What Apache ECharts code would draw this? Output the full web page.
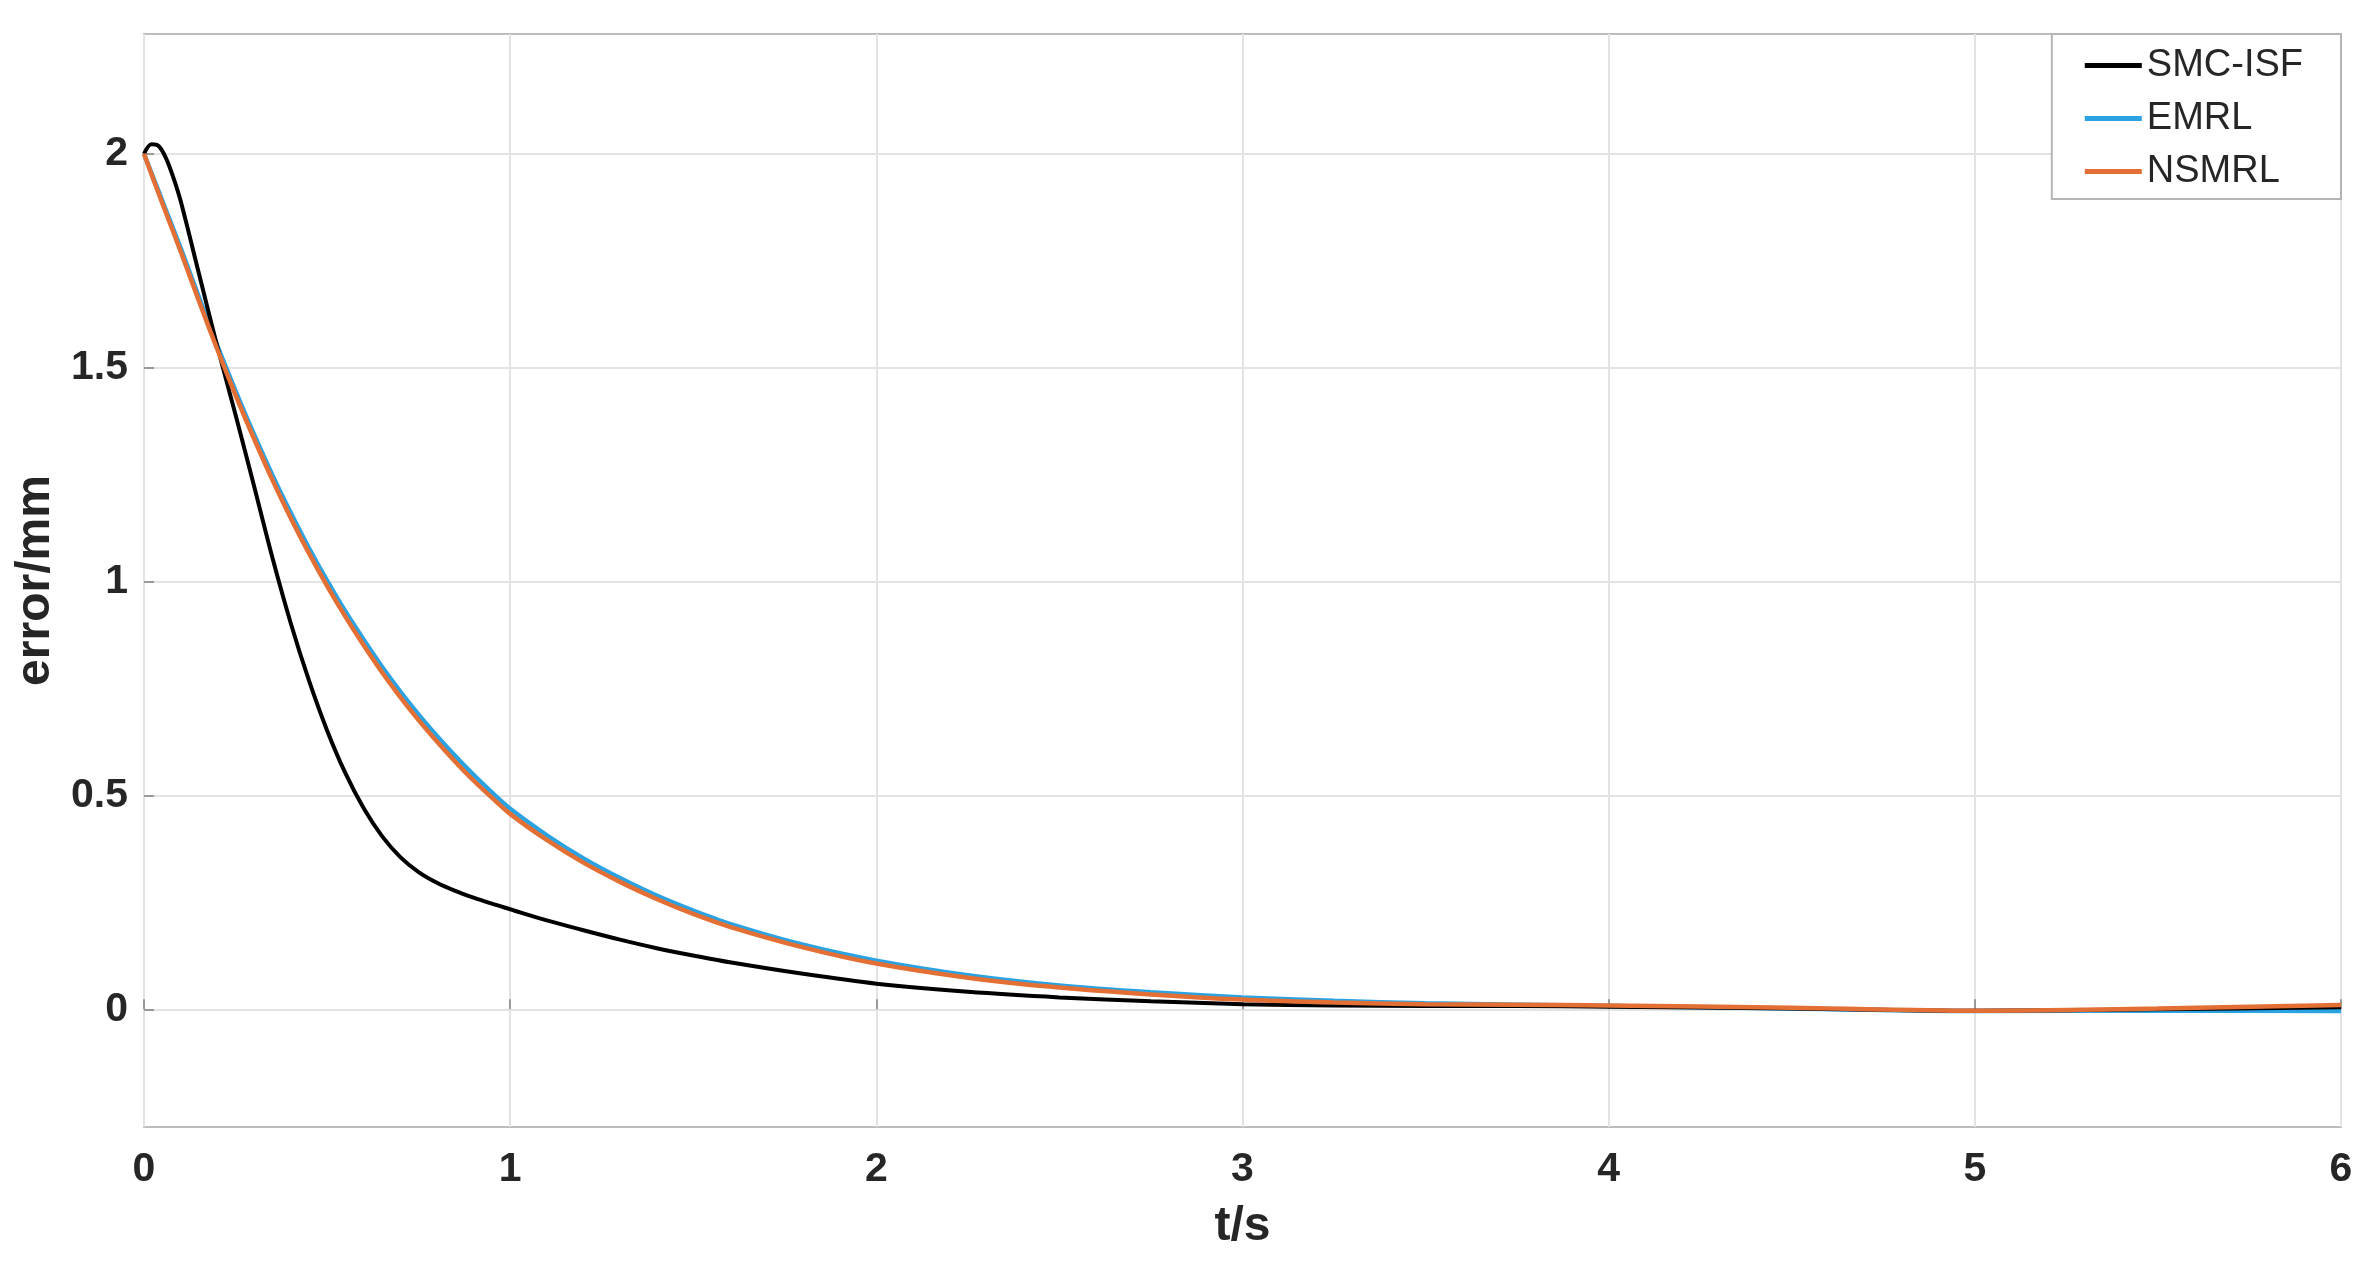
<!DOCTYPE html>
<html>
<head>
<meta charset="utf-8">
<script src="https://cdn.jsdelivr.net/npm/echarts@6/dist/echarts.min.js"></script>
<style>
html,body{margin:0;padding:0;background:#fff;}
#chart{width:2376px;height:1268px;}
</style>
</head>
<body>
<div id="chart"></div>
<script>
// time samples (s)
const timeValues = [0, 0.02, 0.04, 0.06, 0.08, 0.1, 0.15, 0.2, 0.25, 0.3, 0.35, 0.4, 0.45, 0.5, 0.55, 0.6, 0.65, 0.7, 0.75, 0.8, 0.85, 0.9, 0.95, 1.0, 1.1, 1.2, 1.3, 1.4, 1.5, 1.6, 1.8, 2.0, 2.25, 2.5, 2.75, 3.0, 3.25, 3.5, 3.75, 4.0, 4.5, 5.0, 5.5, 6.0];
// error (mm)
const smcIsf = [2.0, 2.022, 2.018, 1.99, 1.945, 1.89, 1.72, 1.55, 1.39, 1.225, 1.058, 0.905, 0.77, 0.652, 0.552, 0.47, 0.405, 0.356, 0.321, 0.296, 0.277, 0.261, 0.247, 0.234, 0.208, 0.185, 0.163, 0.143, 0.126, 0.11, 0.083, 0.06, 0.041, 0.028, 0.019, 0.012, 0.009, 0.008, 0.008, 0.006, 0.002, -0.003, 0.0, 0.005];
const emrl = [2.0, 1.956, 1.912, 1.868, 1.824, 1.78, 1.665, 1.552, 1.446, 1.345, 1.25, 1.162, 1.079, 1.002, 0.93, 0.864, 0.801, 0.743, 0.689, 0.639, 0.592, 0.548, 0.507, 0.469, 0.407, 0.353, 0.307, 0.266, 0.231, 0.2, 0.151, 0.114, 0.08, 0.056, 0.04, 0.028, 0.02, 0.014, 0.011, 0.008, 0.002, -0.004, -0.003, -0.004];
const nsmrl = [2.0, 1.953, 1.907, 1.862, 1.817, 1.772, 1.656, 1.543, 1.436, 1.335, 1.239, 1.15, 1.067, 0.99, 0.918, 0.851, 0.788, 0.73, 0.676, 0.626, 0.579, 0.535, 0.495, 0.457, 0.396, 0.343, 0.298, 0.258, 0.223, 0.193, 0.145, 0.107, 0.074, 0.051, 0.035, 0.023, 0.016, 0.012, 0.011, 0.009, 0.004, -0.003, 0.002, 0.01];
const seriesNames = ['SMC-ISF', 'EMRL', 'NSMRL'];
const yTickValues = [0, 0.5, 1, 1.5, 2];

const pair = arr => timeValues.map((t, i) => [t, arr[i]]);
const FONT = 'Liberation Sans, Arial, Helvetica, sans-serif';

const chart = echarts.init(document.getElementById('chart'), null, {renderer: 'canvas'});
chart.setOption({
  animation: false,
  backgroundColor: '#ffffff',
  color: ['#000000', '#2ba3e3', '#e46f35'],
  grid: {
    left: 144, right: 35, top: 34, bottom: 141,
    show: true, borderColor: '#bdbdbd', borderWidth: 2, backgroundColor: '#ffffff'
  },
  legend: {
    data: seriesNames,
    orient: 'vertical',
    right: 35, top: 34,
    icon: 'rect',
    itemWidth: 57, itemHeight: 5, itemGap: 0,
    padding: [5, 38, 1, 33],
    borderColor: '#b5b5b5', borderWidth: 2,
    backgroundColor: '#ffffff',
    textStyle: {fontFamily: FONT, fontSize: 38, color: '#262626', lineHeight: 53}
  },
  xAxis: {
    type: 'value', min: 0, max: 6, interval: 1,
    name: 't/s', nameLocation: 'middle', nameGap: 76,
    nameTextStyle: {fontFamily: FONT, fontSize: 48, fontWeight: 'bold', color: '#262626'},
    axisLine: {show: false},
    axisTick: {show: true, inside: true, length: 10, lineStyle: {color: '#9a9a9a', width: 2}},
    axisLabel: {fontFamily: FONT, fontSize: 41, fontWeight: 'bold', color: '#262626', margin: 22},
    splitLine: {show: true, lineStyle: {color: '#e3e3e3', width: 2}}
  },
  yAxis: {
    type: 'value', min: -0.275, max: 2.28,
    name: 'error/mm', nameLocation: 'middle', nameGap: 84,
    nameTextStyle: {fontFamily: FONT, fontSize: 48, fontWeight: 'bold', color: '#262626'},
    axisLine: {show: false},
    axisTick: {show: true, inside: true, length: 10, customValues: yTickValues, lineStyle: {color: '#9a9a9a', width: 2}},
    axisLabel: {fontFamily: FONT, fontSize: 41, fontWeight: 'bold', color: '#262626', margin: 16, customValues: yTickValues},
    splitLine: {show: true, lineStyle: {color: '#e3e3e3', width: 2}}
  },
  series: [
    {name: seriesNames[0], type: 'line', data: pair(smcIsf), showSymbol: false, smooth: 0.3, lineStyle: {width: 4}, z: 3},
    {name: seriesNames[1], type: 'line', data: pair(emrl), showSymbol: false, smooth: 0.3, lineStyle: {width: 4.5}, z: 2},
    {name: seriesNames[2], type: 'line', data: pair(nsmrl), showSymbol: false, smooth: 0.3, lineStyle: {width: 4.5}, z: 4}
  ]
});
</script>
</body>
</html>
